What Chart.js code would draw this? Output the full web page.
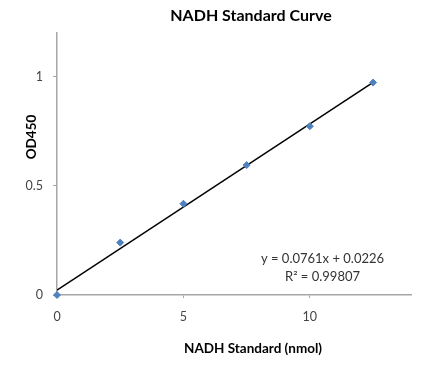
<!DOCTYPE html>
<html>
<head>
<meta charset="utf-8">
<script src="https://cdn.jsdelivr.net/npm/chart.js@4"></script>
<style>
  html, body { margin: 0; padding: 0; background: #fff; }
  #wrap { width: 438px; height: 384px; }
</style>
</head>
<body>
<div id="wrap"><canvas id="curve" width="438" height="384"></canvas></div>
<script>
// NADH standard curve
const nadhAmount = [0, 2.5, 5, 7.5, 10, 12.5];
const od450 = [0, 0.24, 0.418, 0.595, 0.773, 0.973];
const trendX = [0, 12.5];
const trendY = [0.0226, 0.974];
const eqLines = ["y = 0.0761x + 0.0226", "R\u00b2 = 0.99807"];
const chartTitle = "NADH Standard Curve";
const xTitle = "NADH Standard (nmol)";
const yTitle = "OD450";

const axisGray = "#a6a6a6";
const fontFam = "Lato, 'Open Sans', sans-serif";

// titles + trendline equation, drawn like the excel chart (slightly off-centre)
const labels = {
  id: "labels",
  afterDatasetsDraw(chart) {
    const c = chart.ctx;
    const xs = chart.scales.x, ys = chart.scales.y;
    c.save();
    c.textAlign = "center";
    c.textBaseline = "middle";

    c.fillStyle = "#000";
    c.font = "bold 16px " + fontFam;
    c.fillText(chartTitle, 251, 16);

    c.font = "bold 13.5px " + fontFam;
    c.fillText(xTitle, 253, 349);

    c.save();
    c.translate(32, 137);
    c.rotate(-Math.PI / 2);
    c.font = "bold 13.5px " + fontFam;
    c.fillText(yTitle, 0, 0);
    c.restore();

    const cx = xs.getPixelForValue(10.5);
    const cy = ys.getPixelForValue(0.168);
    c.fillStyle = "#333";
    c.font = "13px " + fontFam;
    eqLines.forEach((t, i) => c.fillText(t, cx, cy + i * 18));
    c.restore();
  }
};

new Chart(document.getElementById("curve"), {
  type: "scatter",
  data: {
    datasets: [
      {
        label: "OD450",
        data: nadhAmount.map((x, i) => ({ x: x, y: od450[i] })),
        pointStyle: "rectRot",
        pointRadius: 3.5,
        backgroundColor: "#4f81bd",
        borderColor: "#4f81bd",
        clip: false,
        order: 1
      },
      {
        label: "Linear fit",
        type: "line",
        data: trendX.map((x, i) => ({ x: x, y: trendY[i] })),
        borderColor: "#000",
        borderWidth: 1.5,
        pointRadius: 0,
        fill: false,
        order: 2
      }
    ]
  },
  options: {
    responsive: false,
    animation: false,
    layout: { padding: { left: 0, right: 27, top: 33, bottom: 0 } },
    plugins: {
      legend: { display: false },
      tooltip: { enabled: false },
      title: { display: false }
    },
    scales: {
      x: {
        type: "linear",
        min: 0,
        max: 14,
        afterFit(scale) { scale.height = 89; },
        ticks: {
          stepSize: 5,
          color: "#444",
          font: { family: fontFam, size: 12.5 },
          padding: 11,
          callback: v => (v % 5 === 0) ? v : null
        },
        grid: { drawOnChartArea: false, color: axisGray, tickLength: 3 },
        border: { color: axisGray, width: 1.5 }
      },
      y: {
        min: 0,
        max: 1.2,
        afterFit(scale) { scale.width = 57; },
        ticks: {
          stepSize: 0.5,
          color: "#444",
          font: { family: fontFam, size: 12.5 },
          padding: 10,
          callback: v => (v === 0 || v === 0.5 || v === 1) ? v : null
        },
        grid: { drawOnChartArea: false, color: axisGray, tickLength: 4 },
        border: { color: axisGray, width: 1.5 }
      }
    }
  },
  plugins: [labels]
});
</script>
</body>
</html>
